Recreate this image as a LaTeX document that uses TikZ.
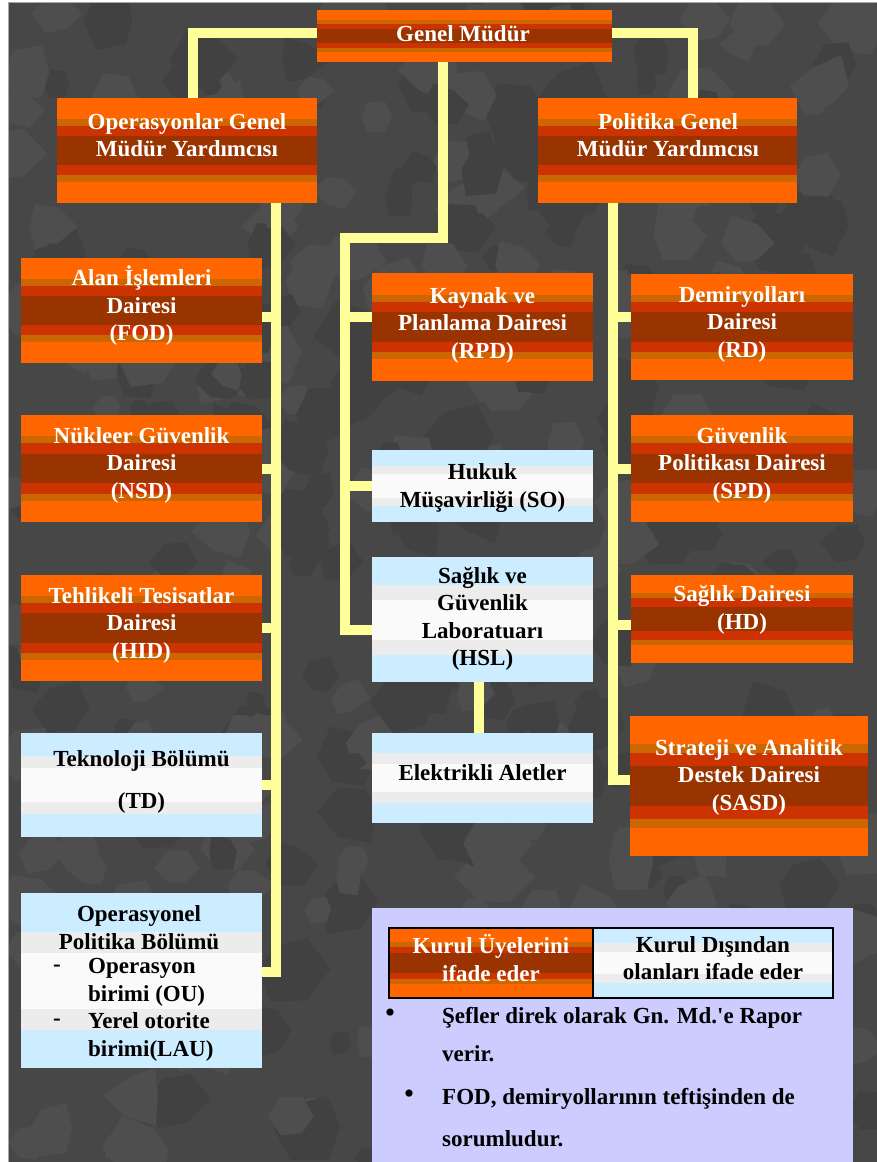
\documentclass[tikz,border=0pt]{standalone}
\usepackage{fontspec}
\setmainfont{Liberation Serif}
\usetikzlibrary{calc}
\pgfdeclarelayer{bgl}
\pgfdeclarelayer{conl}
\pgfsetlayers{bgl,conl,main}
\definecolor{orA}{HTML}{FF6600}
\definecolor{orB}{HTML}{CC6600}
\definecolor{orC}{HTML}{CC3300}
\definecolor{orD}{HTML}{993300}
\definecolor{blA}{HTML}{CCECFF}
\definecolor{blB}{HTML}{ECECEC}
\definecolor{blC}{HTML}{FAFAFA}
\definecolor{bgdark}{HTML}{474747}
\definecolor{bgshadeA}{HTML}{414141}
\definecolor{bgshadeB}{HTML}{4E4E4E}
\definecolor{connyel}{HTML}{FFFF99}
\definecolor{legbg}{HTML}{CCCCFF}
\newcommand\hband[2]{\fill[#1] ($(path picture bounding box.north west)!#2!(path picture bounding box.south west)$) rectangle ($(path picture bounding box.south east)!#2!(path picture bounding box.north east)$);}
\tikzset{
  obox/.style={rectangle, inner sep=0pt, path picture={\hband{orA}{0}\hband{orB}{0.2}\hband{orC}{0.265}\hband{orD}{0.36}}},
  bbox/.style={rectangle, inner sep=0pt, path picture={\hband{blA}{0}\hband{blB}{0.22}\hband{blC}{0.34}}},
  wlbl/.style={font=\fontsize{23}{27.5}\selectfont\bfseries, align=center, inner sep=0pt, text=white},
  klbl/.style={wlbl, text=black},
  bullet/.style={inner sep=0pt, text=black, font=\fontsize{30}{30}\selectfont},
  conn/.style={draw=connyel, line width=10pt},
}
\begin{document}
\begin{tikzpicture}[x=1pt,y=-1pt]
\useasboundingbox (0,0) rectangle (877,1162);
\begin{pgfonlayer}{bgl}
\fill[white] (0,0) rectangle (877,1162);
\fill[bgdark] (9,3) rectangle (877,1162);
\begin{scope}
\clip (9,3) rectangle (877,1162);
\pgfmathsetseed{7}
\foreach \i in {1,...,380}{
  \pgfmathsetmacro\cx{9+rnd*868}
  \pgfmathsetmacro\cy{3+rnd*1159}
  \pgfmathsetmacro\rr{14+rnd*26}
  \pgfmathsetmacro\ra{\rr*(0.6+0.5*rnd)}
  \pgfmathsetmacro\rb{\rr*(0.6+0.5*rnd)}
  \pgfmathsetmacro\rc{\rr*(0.6+0.5*rnd)}
  \pgfmathsetmacro\rd{\rr*(0.6+0.5*rnd)}
  \pgfmathsetmacro\re{\rr*(0.6+0.5*rnd)}
  \pgfmathsetmacro\rf{\rr*(0.6+0.5*rnd)}
  \pgfmathtruncatemacro\pick{rnd<0.5 ? 0 : 1}
  \ifnum\pick=0 \def\blobcol{bgshadeA}\else\def\blobcol{bgshadeB}\fi
  \fill[\blobcol] (\cx,\cy) +(0:\ra) -- +(60:\rb) -- +(120:\rc) -- +(180:\rd) -- +(240:\re) -- +(300:\rf) -- cycle;
}
\end{scope}
\draw[gray!70, line width=0.8pt] (8.6,1162) |- (877,2.6);
\end{pgfonlayer}

% top level
\node[obox, minimum width=295pt, minimum height=52pt] (gm) at (464.5,36) {};
\node[wlbl] (gmt) at (463,34) {Genel Müdür};
\node[obox, minimum width=260pt, minimum height=105pt] (opg) at (187,150.5) {};
\node[wlbl] (opgt) at (187,135) {Operasyonlar Genel\\Müdür Yardımcısı};
\node[obox, minimum width=259pt, minimum height=105pt] (pol) at (667.5,150.5) {};
\node[wlbl] (polt) at (668,135) {Politika Genel\\Müdür Yardımcısı};

% left column
\node[obox, minimum width=241pt, minimum height=105pt] (fod) at (141.5,310.5) {};
\node[wlbl] (fodt) at (141.5,306) {Alan İşlemleri\\Dairesi\\(FOD)};
\node[obox, minimum width=241pt, minimum height=107pt] (nsd) at (141.5,468.5) {};
\node[wlbl] (nsdt) at (141.5,465) {Nükleer Güvenlik\\Dairesi\\(NSD)};
\node[obox, minimum width=241pt, minimum height=106pt] (hid) at (141.5,628) {};
\node[wlbl] (hidt) at (141.5,625) {Tehlikeli Tesisatlar\\Dairesi\\(HID)};
\node[bbox, minimum width=241pt, minimum height=104pt] (td) at (141.5,785) {};
\node[klbl] (tdt) at (141.5,782) {Teknoloji Bölümü\\[14.5pt](TD)};
\node[bbox, minimum width=241pt, minimum height=175pt] (opp) at (141.5,980.5) {};
\node[klbl] (oppt) at (139,927.5) {Operasyonel\\Politika Bölümü};
\node[klbl] (oppd1) at (57,968) {-};
\node[klbl] (oppd2) at (57,1022) {-};
\node[klbl, align=left, anchor=west] (oppl) at (88,1010) {Operasyon\\birimi (OU)\\Yerel otorite\\birimi(LAU)};

% middle column
\node[obox, minimum width=221pt, minimum height=108pt] (rpd) at (482.5,327) {};
\node[wlbl] (rpdt) at (482.5,325) {Kaynak ve\\Planlama Dairesi\\(RPD)};
\node[bbox, minimum width=221pt, minimum height=72pt] (so) at (482.5,486) {};
\node[klbl] (sot) at (482.5,488) {Hukuk\\Müşavirliği (SO)};
\node[bbox, minimum width=221pt, minimum height=125pt] (hsl) at (482.5,619.5) {};
\node[klbl] (hslt) at (482.5,619) {Sağlık ve\\Güvenlik\\Laboratuarı\\(HSL)};
\node[bbox, minimum width=221pt, minimum height=90pt] (ea) at (482.5,778) {};
\node[klbl] (eat) at (482.5,773) {Elektrikli Aletler};

% right column
\node[obox, minimum width=222pt, minimum height=106pt] (rd) at (742,327) {};
\node[wlbl] (rdt) at (742,324) {Demiryolları\\Dairesi\\(RD)};
\node[obox, minimum width=222pt, minimum height=107pt] (spd) at (742,468.5) {};
\node[wlbl] (spdt) at (742,465) {Güvenlik\\Politikası Dairesi\\(SPD)};
\node[obox, minimum width=222pt, minimum height=88pt] (hd) at (742,619) {};
\node[wlbl] (hdt) at (742,610) {Sağlık Dairesi\\(HD)};
\node[obox, minimum width=238pt, minimum height=140pt] (sasd) at (749,786) {};
\node[wlbl] (sasdt) at (749,777) {Strateji ve Analitik\\Destek Dairesi\\(SASD)};

% legend panel
\node[fill=legbg, inner sep=0pt, minimum width=481pt, minimum height=254pt, anchor=north west] (leg) at (372,908) {};
\node[obox, draw=black, line width=1.2pt, minimum width=204pt, minimum height=70pt] (lgo) at (491,963) {};
\node[wlbl] (lgot) at (491,958) {Kurul Üyelerini\\ifade eder};
\node[bbox, draw=black, line width=1.2pt, minimum width=240pt, minimum height=70pt] (lgb) at (713,963) {};
\node[klbl] (lgbt) at (713,958) {Kurul Dışından\\olanları ifade eder};
\node[bullet] (bul1) at (390,1016) {•};
\node[klbl, anchor=base west] (ln1) at (442,1023) {Şefler direk olarak Gn. Md.\textquotesingle e Rapor};
\node[klbl, anchor=base west] (ln2) at (442,1061) {verir.};
\node[bullet] (bul2) at (409,1097) {•};
\node[klbl, anchor=base west] (ln3) at (442,1104) {FOD, demiryollarının teftişinden de};
\node[klbl, anchor=base west] (ln4) at (442,1146) {sorumludur.};

% connectors
\begin{pgfonlayer}{conl}
\draw[conn] ([yshift=3pt]gm.west) -| ([xshift=6pt]opg.north);
\draw[conn] ([yshift=3pt]gm.east) -| ([xshift=25pt]pol.north);
% centre trunk
\coordinate (cbend) at (345,238);
\draw[conn] ([xshift=-21.5pt]gm.south) |- (cbend) |- ([yshift=-10.5pt]hsl.west);
\coordinate (rpdin) at ([yshift=10pt]rpd.west);
\draw[conn] (rpdin) -- (rpdin -| cbend);
\draw[conn] (so.west) -- (so.west -| cbend);
\draw[conn] ([xshift=-3.5pt]hsl.south) -- ([xshift=-3.5pt]ea.north);
% left trunk
\coordinate (ltr) at ([xshift=89pt]opg.south);
\coordinate (oppin) at ([yshift=8.5pt]opp.east);
\draw[conn] (ltr) |- (oppin);
\coordinate (fodin) at ([yshift=-6.5pt]fod.east);
\draw[conn] (fodin) -- (fodin -| ltr);
\draw[conn] (nsd.east) -- (nsd.east -| ltr);
\draw[conn] (hid.east) -- (hid.east -| ltr);
\draw[conn] (td.east) -- (td.east -| ltr);
% right trunk
\coordinate (rtr) at ([xshift=-54.5pt]pol.south);
\coordinate (sasdin) at ([yshift=6pt]sasd.west);
\draw[conn] (rtr) |- (sasdin);
\coordinate (rdin) at ([yshift=10pt]rd.west);
\draw[conn] (rdin) -- (rdin -| rtr);
\draw[conn] (spd.west) -- (spd.west -| rtr);
\coordinate (hdin) at ([yshift=-6pt]hd.west);
\draw[conn] (hdin) -- (hdin -| rtr);
\end{pgfonlayer}
\end{tikzpicture}
\end{document}
